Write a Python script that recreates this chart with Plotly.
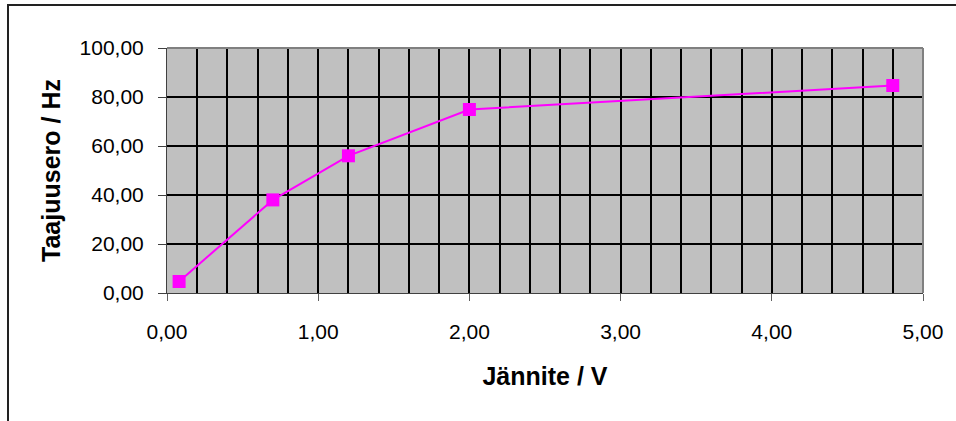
import plotly.graph_objects as go

# Measured voltage vs. frequency difference
voltage = [0.08, 0.70, 1.20, 2.00, 4.80]
freq_diff = [4.7, 38.0, 56.0, 74.9, 84.7]

x_title = "Jännite / V"
y_title = "Taajuusero / Hz"

W, H = 956, 421
ML, MR, MT, MB = 167, 33, 48, 128
PW, PH = W - ML - MR, H - MT - MB

MAGENTA = "#FF00FF"
FONT = "Liberation Sans, Arial, sans-serif"

fig = go.Figure()
fig.add_trace(go.Scatter(
    x=voltage, y=freq_diff, mode="lines+markers",
    line=dict(color=MAGENTA, width=2),
    marker=dict(symbol="square", size=13, color=MAGENTA),
    showlegend=False, cliponaxis=False,
))

def px_x(px):
    return (px - ML) / PW

def px_y(py):
    return 1 - (py - MT) / PH

shapes = [
    # plot-area border (top and right)
    dict(type="line", xref="paper", yref="paper", x0=0, x1=1, y0=1, y1=1,
         line=dict(color="#808080", width=2), layer="above"),
    dict(type="line", xref="paper", yref="paper", x0=1, x1=1, y0=0, y1=1,
         line=dict(color="#808080", width=2), layer="above"),
    # outer chart frame
    dict(type="rect", xref="paper", yref="paper",
         x0=px_x(8), x1=px_x(962), y0=px_y(428), y1=px_y(5),
         line=dict(color="#222222", width=2), layer="below"),
]

fig.update_layout(
    width=W, height=H,
    margin=dict(l=ML, r=MR, t=MT, b=MB, autoexpand=False),
    paper_bgcolor="white", plot_bgcolor="#C0C0C0",
    separators=", ",
    font=dict(family=FONT, color="black", size=21),
    shapes=shapes,
    xaxis=dict(
        range=[0, 5], dtick=1, tick0=0, tickformat=".2f",
        showgrid=True, gridcolor="black", gridwidth=2,
        minor=dict(dtick=0.2, tick0=0, showgrid=True, gridcolor="black",
                   gridwidth=2, ticks=""),
        ticks="outside", ticklen=7, tickcolor="#606060", tickwidth=1,
        showline=True, linecolor="#404040", linewidth=1,
        zeroline=False, ticklabelstandoff=13,
        tickfont=dict(size=21),
        title=dict(text=x_title, font=dict(size=25, family=FONT, weight="bold"),
                   standoff=25),
        automargin=False,
    ),
    yaxis=dict(
        range=[0, 100], dtick=20, tick0=0, tickformat=".2f",
        showgrid=True, gridcolor="black", gridwidth=2,
        ticks="outside", ticklen=8, tickcolor="#404040", tickwidth=1,
        showline=True, linecolor="#404040", linewidth=1,
        zeroline=False, ticklabelstandoff=10,
        tickfont=dict(size=21),
        title=dict(text=y_title, font=dict(size=25, family=FONT, weight="bold"),
                   standoff=11),
        automargin=False,
    ),
)

fig.write_html("out.html")
